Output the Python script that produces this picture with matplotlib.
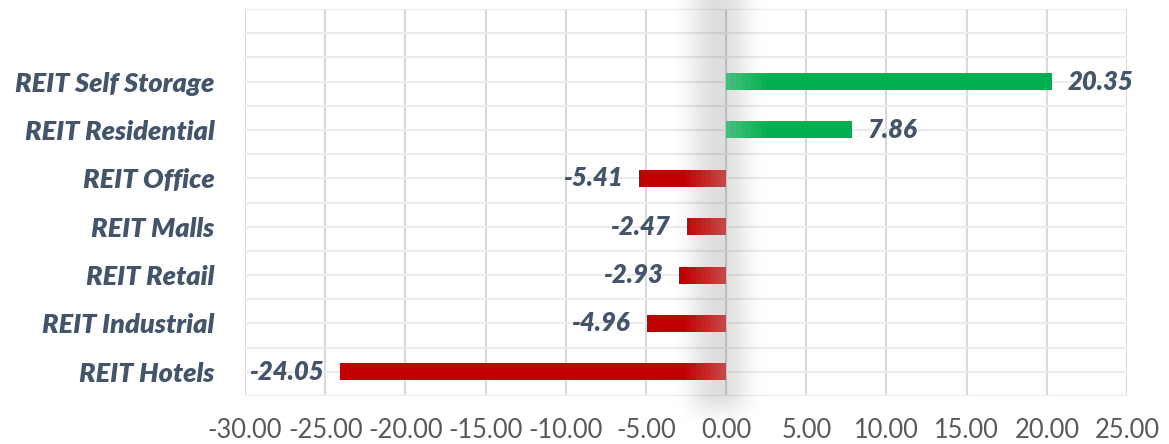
import matplotlib
matplotlib.use('Agg')
import matplotlib.pyplot as plt
import numpy as np
from matplotlib.colors import to_rgb

plt.rcParams['font.family'] = ['Lato', 'DejaVu Sans']

# datos
categories = ['REIT Hotels', 'REIT Industrial', 'REIT Retail', 'REIT Malls',
              'REIT Office', 'REIT Residential', 'REIT Self Storage']
values = [-24.05, -4.96, -2.93, -2.47, -5.41, 7.86, 20.35]
xticks = [-30, -25, -20, -15, -10, -5, 0, 5, 10, 15, 20, 25]

GREEN = '#00B050'
RED = '#C00000'
TEXT = '#44546A'

fig = plt.figure(figsize=(11.69, 4.44), dpi=100)
ax = fig.add_axes([0.2096, 0.1081, 0.7545, 0.8716])

# sombra gris alrededor de cero
xs = np.linspace(-4.5, 4.5, 400)
ys = np.linspace(-1.1, 7.7, 300)
X, Y = np.meshgrid(xs, ys)
prof_x = np.exp(-np.abs((X + 0.5) / 1.8) ** 2.5)
prof_y = np.clip((Y + 1.1) / 0.6, 0, 1)
alpha = 0.13 * prof_x * prof_y
img = np.zeros(X.shape + (4,))
img[..., 3] = alpha
ax.imshow(img, extent=[-4.5, 4.5, -1.1, 7.7], origin='lower', aspect='auto',
          zorder=1, clip_on=False, interpolation='bilinear')
ax.set_xlim(-30, 25)
ax.set_ylim(-0.5, 7.5)

# barras con degradado hacia cero
h = 0.35
fade = 2.5
nseg = 8
for i, v in enumerate(values):
    base = np.array(to_rgb(GREEN if v > 0 else RED))
    s = np.sign(v)
    ax.barh(i, v, height=h, color=base, zorder=3)
    L = min(abs(v), fade)
    for k in range(nseg):
        t = 1 - k / nseg
        col = base * (1 - 0.32 * t) + np.array([0.85, 0.85, 0.85]) * 0.32 * t
        ax.barh(i, s * L / nseg, left=s * L * k / nseg, height=h, color=col,
                zorder=3, linewidth=0)
    if v > 0:
        ax.annotate(f'{v:.2f}', (v, i), xytext=(11, 0), textcoords='offset points',
                    ha='left', va='center', fontsize=18.5, fontweight='heavy',
                    fontstyle='italic', color=TEXT)
    else:
        ax.annotate(f'{v:.2f}', (v, i), xytext=(-12, 0), textcoords='offset points',
                    ha='right', va='center', fontsize=18.5, fontweight='heavy',
                    fontstyle='italic', color=TEXT)

# rejilla
for x in xticks:
    ax.axvline(x, color='#d9d9d9', lw=1.5, zorder=0)
for y in np.arange(-0.5, 7.6, 0.5):
    ax.axhline(y, color='#ececec', lw=1.5, zorder=0)

for sp in ax.spines.values():
    sp.set_visible(False)

ax.set_xticks(xticks)
ax.set_xticklabels([f'{x:.2f}' for x in xticks], fontsize=18.4, color='#595959')
ax.set_yticks(range(len(categories)))
ax.set_yticklabels(categories, fontsize=19.5, fontweight='heavy', fontstyle='italic',
                   color=TEXT)
ax.tick_params(axis='x', length=0, pad=16)
ax.tick_params(axis='y', length=0, pad=22)

fig.savefig('out.png', dpi=100)
